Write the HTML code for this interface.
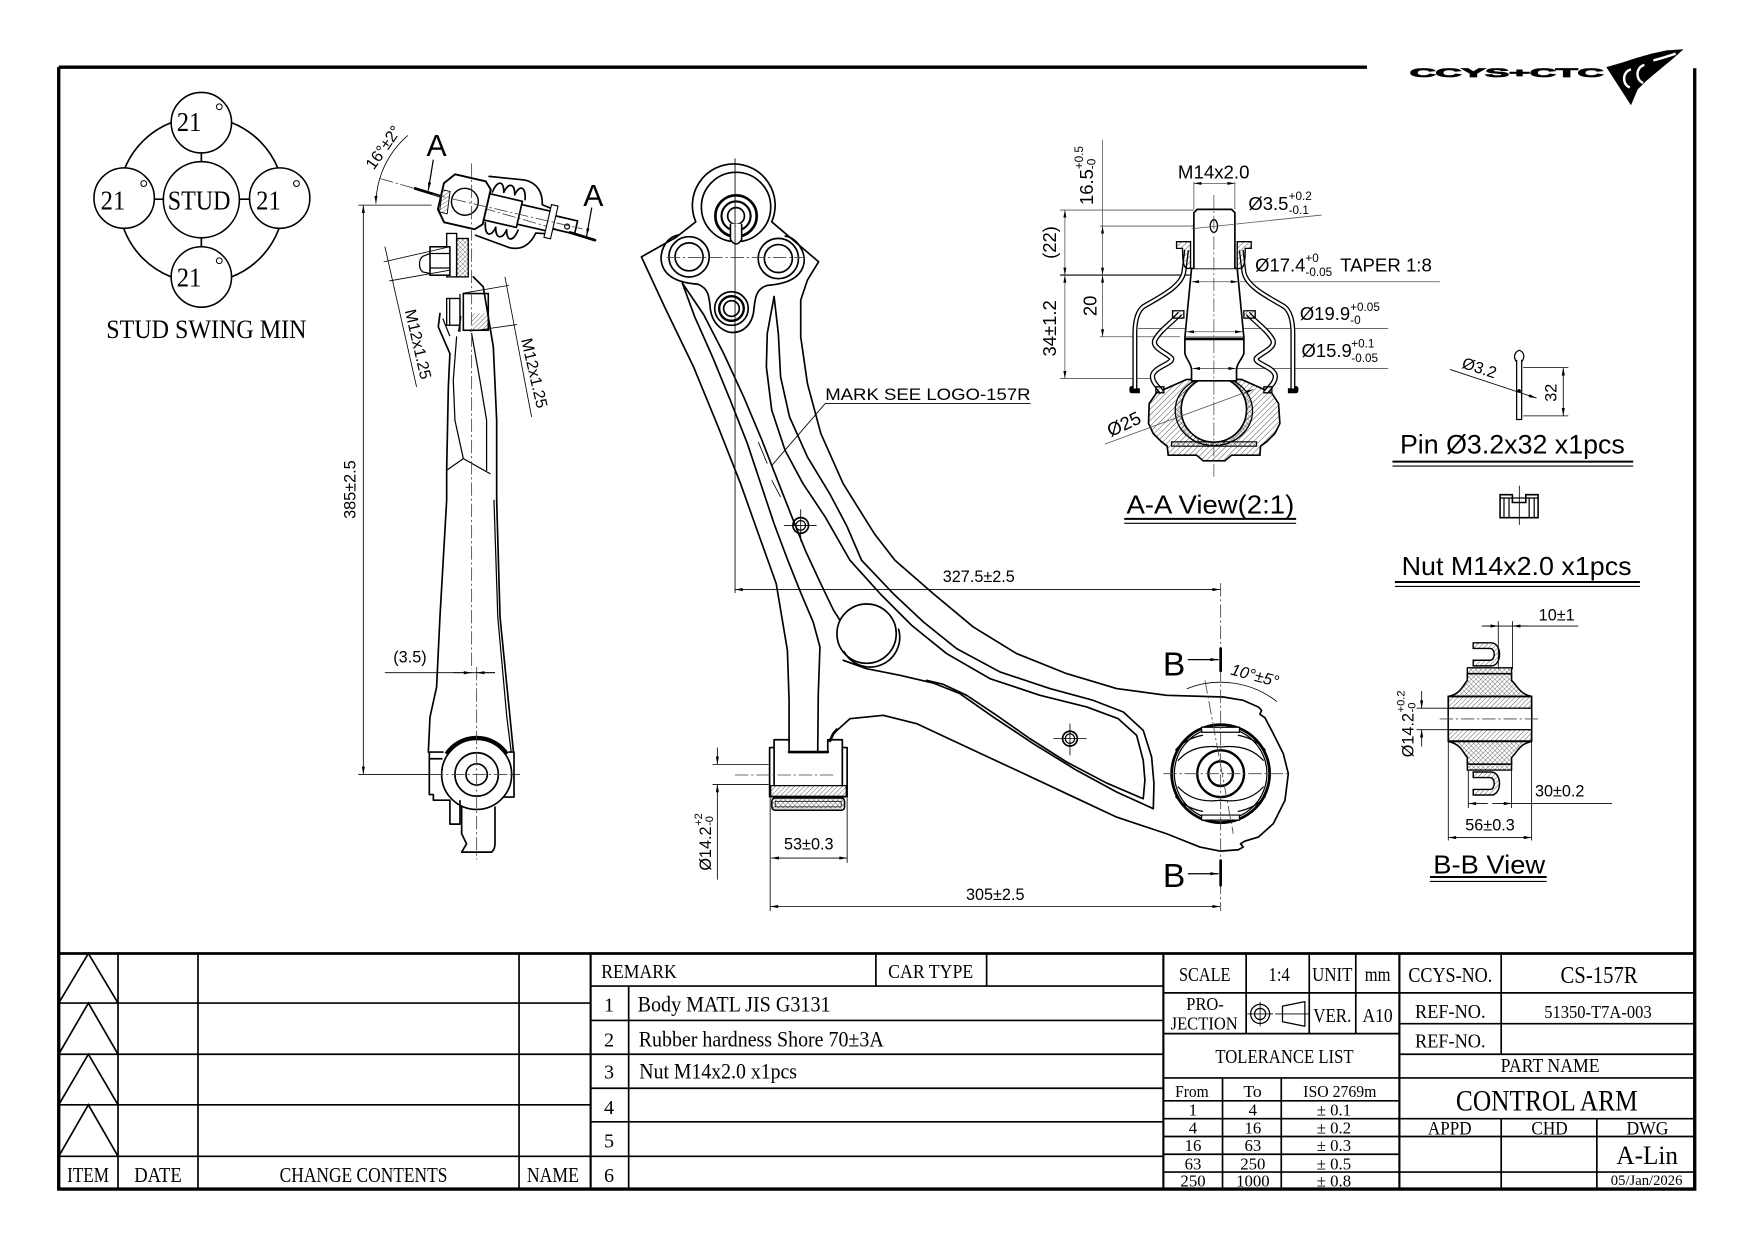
<!DOCTYPE html>
<html><head><meta charset="utf-8">
<style>
html,body{margin:0;padding:0;background:#fff;overflow:hidden}
svg{display:block}
.o{fill:none;stroke:#000;stroke-width:1.5;stroke-linejoin:round;stroke-linecap:round}
.m{fill:none;stroke:#000;stroke-width:1.1;stroke-linejoin:round;stroke-linecap:round}
.t{fill:none;stroke:#000;stroke-width:0.75}
.g{fill:none;stroke:#666;stroke-width:0.7}
.c{fill:none;stroke:#444;stroke-width:0.75;stroke-dasharray:12 2.5 2 2.5}
.k{fill:none;stroke:#000;stroke-width:2.4;stroke-linejoin:round;stroke-linecap:round}
.s{font-family:"Liberation Serif",serif}
.d{font-family:"Liberation Sans",sans-serif;font-size:14.5px}
.e{font-family:"Liberation Sans",sans-serif;font-size:16.5px}
.u{font-family:"Liberation Sans",sans-serif;font-size:10.5px}
.tb{fill:none;stroke:#000;stroke-width:1.5}
.z{fill:none;stroke:#000;stroke-width:4.5;stroke-linejoin:round}
.zt{fill:none;stroke:#555;stroke-width:2.4}
.zk{fill:none;stroke:#000;stroke-width:7;stroke-linejoin:round}
</style></head>
<body>
<svg xmlns="http://www.w3.org/2000/svg" width="1754" height="1240" viewBox="0 0 1568 1108" preserveAspectRatio="none">
<defs>
<pattern id="h" width="3" height="3" patternUnits="userSpaceOnUse" patternTransform="rotate(45)"><path d="M0,0V3" stroke="#000" stroke-width="0.55"/></pattern>
<pattern id="x" width="3" height="3" patternUnits="userSpaceOnUse" patternTransform="rotate(45)"><path d="M0,0V3M0,0H3" stroke="#000" stroke-width="0.45"/></pattern>
<pattern id="h9" width="12" height="12" patternUnits="userSpaceOnUse" patternTransform="rotate(45)"><path d="M0,0V12" stroke="#000" stroke-width="2"/></pattern>
<pattern id="x9" width="10" height="10" patternUnits="userSpaceOnUse" patternTransform="rotate(45)"><path d="M0,0V10M0,0H10" stroke="#000" stroke-width="1.6"/></pattern>
<marker id="a" viewBox="0 0 10 4" refX="10" refY="2" markerWidth="8" markerHeight="2.8" orient="auto-start-reverse" markerUnits="userSpaceOnUse"><path d="M0,0L10,2L0,4z"/></marker>
<marker id="a9" viewBox="0 0 10 4" refX="10" refY="2" markerWidth="27" markerHeight="9" orient="auto-start-reverse" markerUnits="userSpaceOnUse"><path d="M0,0L10,2L0,4z"/></marker>
</defs>

<!-- FRAME -->
<path d="M52.5,60H1222M52.5,60V1062.5H1515V61" fill="none" stroke="#000" stroke-width="3"/>

<!-- LOGO -->
<text x="1260.4" y="68.8" font-family="Liberation Sans, sans-serif" font-size="10.5" font-weight="bold" stroke="#000" stroke-width="0.7" textLength="173" lengthAdjust="spacingAndGlyphs">CCYS+CTC</text>
<path d="M1436,60 L1450,56 L1462,52 L1476,48 L1490,45 L1505,44 L1496,52 L1484,62 L1472,72 L1464,80 L1458,94 Z" fill="#000"/>
<path d="M1458,62 C1450,64 1450,76 1457,78 M1470,58 C1462,60 1462,72 1469,74 M1478,54 C1486,52 1492,50 1498,48" fill="none" stroke="#fff" stroke-width="2.2"/>

<!-- STUD SWING DIAGRAM -->
<circle cx="180" cy="178.5" r="74" class="o"/>
<g fill="#fff" stroke="#000" stroke-width="1.4">
<circle cx="180" cy="109.6" r="27"/><circle cx="111" cy="177" r="27"/><circle cx="250" cy="177" r="27"/><circle cx="180" cy="247.5" r="27"/><circle cx="180" cy="178.5" r="34"/>
</g>
<path d="M180,136.6V144.5M180,212.5V220.5M138,178H146M214,178H223" class="o"/>
<g fill="none" stroke="#000" stroke-width="0.9"><circle cx="196" cy="95.4" r="2.6"/><circle cx="128.5" cy="164" r="2.6"/><circle cx="265" cy="164" r="2.6"/><circle cx="196" cy="233" r="2.6"/></g>
<g class="s" font-size="25">
<text x="158" y="117" textLength="22" lengthAdjust="spacingAndGlyphs">21</text>
<text x="90" y="187" textLength="22" lengthAdjust="spacingAndGlyphs">21</text>
<text x="229" y="187" textLength="22" lengthAdjust="spacingAndGlyphs">21</text>
<text x="158" y="256" textLength="22" lengthAdjust="spacingAndGlyphs">21</text>
<text x="150" y="187" textLength="56" lengthAdjust="spacingAndGlyphs">STUD</text>
</g>
<text x="95" y="302" class="s" font-size="24" textLength="179" lengthAdjust="spacingAndGlyphs">STUD SWING MIN</text>

<!-- ================= SIDE VIEW ================= -->
<path d="M324.8,183.3V692" class="t" marker-start="url(#a)" marker-end="url(#a)"/>
<path d="M320.3,183.3H385.9M320.3,692H464.8" class="t"/>
<text transform="translate(318,437.5) rotate(-90)" text-anchor="middle" class="d">385±2.5</text>
<path d="M336,182 A82,82 0 0,1 364.6,121" class="t" marker-start="url(#a)"/>
<text transform="translate(342.6,131.7) rotate(-55)" text-anchor="middle" dy="5" class="d" font-size="14">16°±2°</text>
<path d="M339.7,159.5 L531.9,214.6" class="c"/>
<path d="M371,168.4L393.3,175.2M509.5,207.7L531.9,214.6" class="k"/>
<text x="390.3" y="139.5" text-anchor="middle" font-family="Liberation Sans, sans-serif" font-size="27">A</text>
<text x="530.4" y="184" text-anchor="middle" font-family="Liberation Sans, sans-serif" font-size="27">A</text>
<path d="M387.3,143.1L382.9,169.9" class="m" marker-end="url(#a)"/>
<path d="M528.9,186L524.4,211" class="m" marker-end="url(#a)"/>
<g transform="translate(415.6,180.3) rotate(13)">
<path d="M16,-27 L48,-31 C60,-31 66,-23 68,-13 L80,-11 M16,27 L48,31 C60,31 66,23 68,13 L80,11" class="o"/>
<path d="M22,-14 C24,-26 30,-26 32,-16 C34,-26 40,-26 42,-16 C44,-26 50,-26 52,-14 M22,14 C24,26 30,26 32,16 C34,26 40,26 42,16 C44,26 50,26 52,14" class="o"/>
<path d="M-14,-22 L14,-22 L20,-16 L20,16 L14,22 L-14,22 L-22,12 L-22,-12 Z" fill="#fff" stroke="#000" stroke-width="1.7"/>
<path d="M-22,-6 L-15,-6 L-13,14 L-20,14 Z" fill="url(#h)" stroke="#000" stroke-width="0.8"/>
<circle r="12" fill="#fff" stroke="#000" stroke-width="1.3"/>
<path d="M20,-12 L50,-12 L50,12 L20,12 M50,-9 L80,-9 L80,9 L50,9 M80,-6 L102,-6 L102,6 L80,6" class="o"/>
<path d="M76,-15 L82,-15 L82,15 L76,15 Z" fill="#fff" stroke="#000" stroke-width="1"/>
<circle cx="94" cy="1" r="2.2" class="m"/>
<path d="M-30,0 H108" class="c"/>
</g>
<rect x="399.3" y="208.6" width="8.9" height="38.8" fill="#fff" stroke="#000" stroke-width="1.2"/>
<rect x="408.2" y="213.1" width="10.4" height="34.3" fill="url(#x)" stroke="#000" stroke-width="1.2"/>
<rect x="384.4" y="220.5" width="17.8" height="25.4" fill="#fff" stroke="#000" stroke-width="1.4"/>
<path d="M384.4,226.5 L378,229 C374,232 374,240 378,243 L384.4,244.4 M384.4,226.5 H402.2 M384.4,239.5H402.2" class="m"/>
<rect x="414.2" y="262.3" width="22.3" height="32.8" fill="#fff" stroke="#000" stroke-width="1.4"/>
<rect x="422" y="280" width="14.5" height="15" fill="url(#h)" stroke="none"/>
<rect x="399.3" y="266.7" width="11.9" height="23.9" fill="#fff" stroke="#000" stroke-width="1.2"/>
<path d="M402,266.7V290.6M411.2,263V296" class="m"/>
<path d="M402.2,220.5L343,234M402.2,241.4L348,251M414,262L455,255M420,296L462,290" class="t"/>
<path d="M344.1,220.5L372.4,345.7M451.4,247.4L475.2,372.5" class="t"/>
<text transform="translate(373.9,307.6) rotate(77)" text-anchor="middle" dy="5" class="d" font-size="15.5">M12x1.25</text>
<text transform="translate(477.8,333.4) rotate(77)" text-anchor="middle" dy="5" class="d" font-size="15.5">M12x1.25</text>
<path d="M393.3,280.1 L391.8,292 L402.2,315.9 L400.8,345.7 L399.3,420.2 L399.3,447 L393.3,551.3 L390.3,613.9 L384.4,640.7 L382.9,672" class="o"/>
<path d="M423.1,247.4 L432,256.3 L435,274.2 L441,309.9 L444,375.5 L444,447 L447,551.3 L455.9,640.7 L459,672" class="o"/>
<path d="M441.6,447 L445,551.3 L453,640 L457,672" class="m"/>
<path d="M408.2,301 L405.2,339.7 L406.7,375.5 L414.2,409.8 M421.6,298 L429,339.7 L435,375.5 L435,420.2 M399.3,420.2 L414.2,409.8 L438,423.2 M402,300 L396,285 M410,296 L412,283" class="m"/>
<path d="M421.6,146V598" class="c"/>
<path d="M383.8,672 L383.8,710 L387.4,710 L387.4,715 L402.2,715 M459.5,672 L459.5,712.2 L442.5,712.2 M383.8,672 H396 M455,672 H459.5 M383.8,678 H395" class="o"/>
<circle cx="426.1" cy="692" r="31.3" fill="#fff" stroke="#000" stroke-width="1.5"/>
<circle cx="426.1" cy="692" r="19.4" class="o"/>
<circle cx="426.1" cy="692" r="9.5" class="o"/>
<path d="M398.7,673.5 A33,33 0 0,1 453.5,673.5" fill="none" stroke="#000" stroke-width="2.9"/>
<path d="M402.2,715.5 V736.4 H411.2 V715.5" class="o"/>
<path d="M412.7,721.2 L412.7,745 L417.1,754 L412.7,761.4 L439.5,761.4 C442,759 442.5,756 442.5,754 L442.5,721.2" class="o"/>
<path d="M426.1,596V768M384.4,692H464.8" class="c"/>
<path d="M344.1,601.1H442.5" class="t"/>
<path d="M405,601.1H421.6" class="t" marker-end="url(#a)"/>
<path d="M442.5,601.1H426.1" class="t" marker-end="url(#a)"/>
<text x="366.5" y="592" text-anchor="middle" class="d">(3.5)</text>

<!-- ================= MAIN ARM ================= -->
<path d="M705.4,662 L705.4,625.7 L703.9,581.1 L693.9,521.5 L677.9,476.8 L662,432.1 L642,381.4 L620,327.8 L594.1,274.2 L573.4,229.5 L604.1,212.2 L622,198.2 A37,37 0 1,1 689.9,198.2 L731.8,233.9 L721.8,250.3 L715.8,268.2 L715.8,301 L721.8,342.7 L733.8,387.4 L753.7,432.1 L781.6,476.8 L800,500.6 L834.3,530.4 L870,560.2 L908.8,584 L953.5,601.9 L998.2,615.3 L1042.9,621.3 L1093.6,622.8 L1111.4,625.8 L1124.9,631.7 L1127.8,634.7 L1126.3,638.3 L1130.8,641.3 L1138.3,655.6 L1147.2,673.4 L1151.7,691.3 L1148.7,715.2 L1138.3,736 L1124.9,748 L1113,751.5 L1109,753.9 L1111.4,756.9 L1107,759.3 L1090.6,760.5 L1072.7,756.9 L1042.9,745 L998.2,730.1 L953.5,709.2 L908.8,688.3 L864.1,667.5 L819.4,646.6 L789.6,639.2 L759.8,642.2 L744.9,655.6 L742,662" class="o"/>
<path d="M742,662 L744.9,655.6 L748,652" class="k"/>
<circle cx="658" cy="185" r="31" class="o"/>
<path d="M606,210 C593,213 589,228 592,237 C596,249 610,253 624,254 C634,258 634,266 635,276 C637,292 650,298 656,297 C664,297 673,290 674,276 C675,266 676,258 686,255 C700,254 714,250 718,238 C722,226 712,212 702,211" class="o"/>
<circle cx="658" cy="193" r="18.5" fill="none" stroke="#000" stroke-width="2.4"/>
<circle cx="658" cy="193" r="13" fill="none" stroke="#000" stroke-width="1.9"/>
<circle cx="658" cy="193" r="7.5" class="o"/>
<path d="M653,200 V214 Q658,222 663,214 V200" fill="#fff" stroke="#000" stroke-width="1.4"/>
<circle cx="616" cy="229.5" r="18" class="o"/><circle cx="616" cy="229.5" r="12.5" class="o"/>
<circle cx="695.8" cy="231" r="18" class="o"/><circle cx="695.8" cy="231" r="12.5" class="o"/>
<circle cx="653.9" cy="275.7" r="15" class="o"/><circle cx="653.9" cy="275.7" r="11" fill="none" stroke="#000" stroke-width="2.1"/><circle cx="653.9" cy="275.7" r="7" class="o"/>
<path d="M596,230H720" class="c"/>
<path d="M657.1,141.5V530" class="t"/>
<path d="M610,253 L621,283 L637,319 L653,358 L668,396 L680,432 L692,468 L704,500 L716,530 L727,556 L733,578 L731.5,620 L731,672" class="o"/>
<path d="M610,253 L629,281 L647,316 L665,355 L681,393 L695,429 L708,462 L720,492 L733,520 L745,545 L752,556" class="o"/>
<path d="M692,265 L685.9,298 L685.1,327.8 L689.9,366.5 L701.8,402.3 L717.8,432.1 L737.7,461.9 L759.8,500.6 L788.1,531.9 L814.9,558.7 L846.2,584 L885,606.4 L929.7,621.3 L971.4,631.7 L999.7,642.2 L1016.1,657.1 L1022,679.4 L1023.5,697.3 L1022,713.7 L989.3,699.7 L953.5,680.9 L920.7,660 L890.9,639.2 L864.1,621.3 L843.2,611.5 L828.3,607.9" class="o"/>
<path d="M692,265 L695.8,298 L697.8,336.7 L705.8,372.5 L721.8,408.3 L741.7,441.1 L757,470 L770.2,500.6 L798.5,530.4 L825.4,555.7 L855.2,579.6 L893.9,600.4 L938.6,615.3 L977.3,625.8 L1004.2,636.2 L1022,652.6 L1029.5,676.4 L1031.6,700.3 L1031,722.6 L998.2,707.7 L962.4,688.3 L923.7,664.5 L888,640.7 L858.1,619.8 L834.3,610.3 L804.5,603.4 L774.7,597.5 L753.8,590" class="o"/>
<circle cx="774.7" cy="566.2" r="26.5" fill="#fff" stroke="#000" stroke-width="1.5"/>
<path d="M754.7,582.5 A26.5,26.5 0 0,0 803.3,562.3" class="o"/>
<circle cx="715.8" cy="469.5" r="7" class="o"/><circle cx="715.8" cy="469.5" r="4.3" class="m"/>
<path d="M701,469.5H730M715.8,455V484" class="t"/>
<circle cx="956.5" cy="660" r="6.6" class="o"/><circle cx="956.5" cy="660" r="4.2" class="m"/>
<path d="M941.6,660H971.4M956.5,646.6V674.9" class="t"/>
<text x="737.7" y="357.6" class="d" textLength="183.6" lengthAdjust="spacingAndGlyphs">MARK SEE LOGO-157R</text>
<path d="M921.3,360.6H737.7L689.9,416" class="t"/>
<path d="M677.9,394.9L685.9,414.2M689.9,429.1L697.8,444" class="t"/>
<circle cx="1091.2" cy="691.3" r="43.8" fill="none" stroke="#000" stroke-width="2.5"/>
<circle cx="1091.2" cy="691.3" r="41.4" class="m"/>
<path d="M1074.2,649.8 H1108 V654.3 H1074.2 Z M1074.2,728.3 H1108 V732.8 H1074.2 Z" fill="#fff" stroke="#000" stroke-width="1.1"/>
<path d="M1053.3,679.4 Q1066.5,664.5 1091.2,667.5 Q1115.9,664.5 1129.3,679.4 M1053.3,703.2 Q1066.5,718.1 1091.2,715.1 Q1115.9,718.1 1129.3,703.2" class="m"/>
<path d="M1051,670 Q1060,660 1075,657 M1131,670 Q1122,660 1107,657 M1051,712 Q1060,722 1075,725 M1131,712 Q1122,722 1107,725" class="m"/>
<circle cx="1091.2" cy="691.3" r="20.9" fill="none" stroke="#000" stroke-width="2.1"/>
<circle cx="1091.2" cy="691.3" r="11" fill="none" stroke="#000" stroke-width="2.1"/>
<path d="M1039.9,691.3H1153.2M1091.2,521V814M1077.2,607.9L1102.5,745" class="c"/>
<path d="M1060.9,615.4 A81.7,81.7 0 0,1 1141.5,626.9" class="t"/>
<text transform="translate(1121.9,603.4) rotate(15)" text-anchor="middle" dy="5" class="d" font-style="italic">10°±5°</text>
<text x="1049.6" y="603.4" text-anchor="middle" font-family="Liberation Sans, sans-serif" font-size="30">B</text>
<text x="1049.6" y="792.6" text-anchor="middle" font-family="Liberation Sans, sans-serif" font-size="30">B</text>
<path d="M1062.3,589.4H1089" class="m" marker-end="url(#a)"/>
<path d="M1062.3,780.7H1089" class="m" marker-end="url(#a)"/>
<path d="M1091.2,579.6V599.5M1091.2,769V791" class="k"/>
<path d="M688,668 L692,668 L692,661 L705.4,661 M740,661 L753,661 L753,668 L757.3,668 L757.3,712 L688,712 L688,668 M692,668 V702 M753,668 V702 M705.4,661 V672 M740,661 V672" class="o"/>
<path d="M705.4,672 H740" class="k"/>
<rect x="689" y="702" width="67.5" height="9.5" fill="url(#h)" stroke="#000" stroke-width="1.1"/>
<rect x="690" y="713" width="65" height="11" rx="3" fill="url(#x)" stroke="#000" stroke-width="1.4"/>
<rect x="693" y="716" width="59" height="5" fill="none" stroke="#000" stroke-width="0.7"/>
<path d="M657,692.5H745" class="c"/>
<path d="M657.1,526.8H1090.8" class="t" marker-start="url(#a)" marker-end="url(#a)"/>
<text x="875" y="520" text-anchor="middle" class="d">327.5±2.5</text>
<path d="M688.5,713V814M757.3,713V771" class="t"/>
<path d="M688.7,810H1090.8" class="t" marker-start="url(#a)" marker-end="url(#a)"/>
<text x="889.7" y="804" text-anchor="middle" class="d">305±2.5</text>
<path d="M689.4,766.7H757.3" class="t" marker-start="url(#a)" marker-end="url(#a)"/>
<text x="723" y="759" text-anchor="middle" class="d">53±0.3</text>
<path d="M637,683H687M637,700.9H687" class="t"/>
<path d="M641.3,668V683" class="t" marker-end="url(#a)"/>
<path d="M641.3,786V700.9" class="t" marker-end="url(#a)"/>
<g transform="translate(635.5,778) rotate(-90)" class="d"><text x="0" y="0">Ø14.2</text><text x="40" y="-8" font-size="10">+2</text><text x="40" y="2" font-size="10">-0</text></g>

<!-- ================= A-A VIEW ================= -->
<g transform="translate(929.6,125.1) scale(0.298)">
<path d="M60,210H462M180,258H470M180,590H420M60,715H340M188,0V258M462,125V208M585,125V208M600,425H1200M295,565H1045M590,685H1045" class="zt"/>
<path d="M60,405H450" fill="none" stroke="#000" stroke-width="3.5"/>
<path d="M75,210V405" class="zt" marker-start="url(#a9)" marker-end="url(#a9)"/>
<path d="M75,405V715" class="zt" marker-start="url(#a9)" marker-end="url(#a9)"/>
<path d="M188,258V405" class="zt" marker-start="url(#a9)" marker-end="url(#a9)"/>
<path d="M188,405V590" class="zt" marker-start="url(#a9)" marker-end="url(#a9)"/>
<path d="M462,130H585" class="zt" marker-start="url(#a9)" marker-end="url(#a9)"/>
<g fill="none" stroke-linejoin="round">
<path d="M440,330 L432,395 C425,440 360,470 310,500 C292,515 285,545 285,580 L285,745 L276,745 L276,752 L300,752 M604,330 L612,395 C619,440 684,470 734,500 C752,515 759,545 759,580 L759,745 L768,745 L768,752 L744,752" stroke="#000" stroke-width="15"/>
<path d="M440,330 L432,395 C425,440 360,470 310,500 C292,515 285,545 285,580 L285,745 M604,330 L612,395 C619,440 684,470 734,500 C752,515 759,545 759,580 L759,745" stroke="#fff" stroke-width="7"/>
</g>
<path d="M350,758 L440,718 L605,718 L695,758 L716,790 L720,850 L705,880 L680,905 L662,918 L660,945 L575,945 L555,962 L490,962 L470,945 L385,945 L382,918 L365,905 L340,880 L326,850 L328,790 Z" fill="url(#h9)" stroke="#000" stroke-width="5"/>
<ellipse cx="522" cy="812" rx="116" ry="104" fill="url(#x9)" stroke="#000" stroke-width="4"/>
<path d="M395,905 H650 V918 H395 Z" fill="url(#x9)" stroke="#000" stroke-width="3.5"/>
<circle cx="522" cy="808" r="98" fill="#fff" stroke="#000" stroke-width="5"/>
<g fill="none" stroke-linejoin="round">
<path d="M420,520 C405,540 360,570 345,600 C335,625 385,640 395,655 C400,670 345,680 338,705 C335,725 355,740 365,755 M624,520 C639,540 684,570 699,600 C709,625 659,640 649,655 C644,670 699,680 706,705 C709,725 689,740 679,755" stroke="#000" stroke-width="16"/>
<path d="M420,520 C405,540 360,570 345,600 C335,625 385,640 395,655 C400,670 345,680 338,705 C335,725 355,740 365,755 M624,520 C639,540 684,570 699,600 C709,625 659,640 649,655 C644,670 699,680 706,705 C709,725 689,740 679,755" stroke="#fff" stroke-width="8"/>
</g>
<path d="M398,512 H432 V534 H398 Z M612,512 H646 V534 H612 Z M348,740 H372 V758 H348 Z M672,740 H696 V758 H672 Z" fill="url(#h9)" stroke="#000" stroke-width="4"/>
<path d="M410,305 L452,305 L452,385 L440,385 C430,380 428,360 428,325 L410,325 Z M634,305 L592,305 L592,385 L604,385 C614,380 616,360 616,325 L634,325 Z" fill="url(#h9)" stroke="#000" stroke-width="4"/>
<path d="M455,385 L592,385 L612,592 L435,592 Z" fill="#fff" stroke="#000" stroke-width="5"/>
<path d="M435,592 L435,640 C440,660 455,670 455,690 L455,722 L590,722 L590,690 C590,670 605,660 612,640 L612,592" fill="#fff" stroke="#000" stroke-width="5"/>
<path d="M435,597 H612" fill="none" stroke="#000" stroke-width="7"/>
<path d="M462,385 V218 L472,208 H575 L585,218 V385" fill="#fff" stroke="#000" stroke-width="5"/>
<ellipse cx="522" cy="258" rx="11" ry="19" fill="none" stroke="#000" stroke-width="4"/>
<path d="M455,425H595" class="zt" marker-start="url(#a9)" marker-end="url(#a9)"/>
<path d="M440,575H608" class="zt" marker-start="url(#a9)" marker-end="url(#a9)"/>
<path d="M458,685H588" class="zt" marker-start="url(#a9)" marker-end="url(#a9)"/>
<path d="M455,266 L845,225" class="zt"/>
<path d="M195,912 L640,748" class="zt" marker-end="url(#a9)"/>
<path d="M522,165V1010" fill="none" stroke="#444" stroke-width="2.2" stroke-dasharray="40 8 6 8"/>
</g>
<text x="1053" y="159.4" class="e" textLength="64" lengthAdjust="spacingAndGlyphs">M14x2.0</text>
<text x="1116" y="187.7" class="e">Ø3.5</text><text x="1152" y="178.7" class="u">+0.2</text><text x="1152" y="191" class="u">-0.1</text>
<text x="1122" y="242.8" class="e">Ø17.4</text><text x="1167" y="233.9" class="u">+0</text><text x="1167" y="246.7" class="u">-0.05</text>
<text x="1198" y="242.8" class="e" textLength="82" lengthAdjust="spacingAndGlyphs">TAPER 1:8</text>
<text x="1162" y="286" class="e">Ø19.9</text><text x="1207" y="277.7" class="u">+0.05</text><text x="1207" y="289.6" class="u">-0</text>
<text x="1163.5" y="318.8" class="e">Ø15.9</text><text x="1208" y="310.5" class="u">+0.1</text><text x="1208" y="323.3" class="u">-0.05</text>
<text transform="translate(1004.6,378.6) rotate(-25)" text-anchor="middle" dy="6" class="e">Ø25</text>
<text transform="translate(944,216.7) rotate(-90)" text-anchor="middle" class="e">(22)</text>
<text transform="translate(944,293.4) rotate(-90)" text-anchor="middle" class="e">34±1.2</text>
<text transform="translate(980,273.3) rotate(-90)" text-anchor="middle" class="e">20</text>
<g transform="translate(977.3,183.2) rotate(-90)"><text x="0" y="0" class="e">16.5</text><text x="32" y="-9" class="u">+0.5</text><text x="32" y="2" class="u">-0</text></g>
<text x="1007" y="459" font-family="Liberation Sans, sans-serif" font-size="23" textLength="150" lengthAdjust="spacingAndGlyphs">A-A View(2:1)</text>
<path d="M1005,463.6H1158.7" fill="none" stroke="#000" stroke-width="1.8"/>
<path d="M1005,467.6H1158.7" fill="none" stroke="#000" stroke-width="1"/>

<!-- ================= PIN / NUT / B-B ================= -->
<path d="M1355.8,322 V374.8 H1360.3 V322 M1355.5,323 C1352,318 1355,314 1358.2,313 C1361.5,314 1364,318 1360.5,323" class="m"/>
<circle cx="1358" cy="349.3" r="1.6"/>
<path d="M1296.2,330.1L1373.6,355.7" class="t" marker-end="url(#a)"/>
<text transform="translate(1322.6,328.6) rotate(18)" text-anchor="middle" dy="5" class="d">Ø3.2</text>
<path d="M1361.7,328.5H1402M1361.7,371.6H1402" class="t"/>
<path d="M1397.5,328.5V371.6" class="t" marker-start="url(#a)" marker-end="url(#a)"/>
<text transform="translate(1391.5,350.9) rotate(-90)" text-anchor="middle" class="d">32</text>
<text x="1251.5" y="405.2" font-family="Liberation Sans, sans-serif" font-size="24" textLength="201" lengthAdjust="spacingAndGlyphs">Pin Ø3.2x32 x1pcs</text>
<path d="M1244.8,412.5H1460" fill="none" stroke="#000" stroke-width="1.8"/>
<path d="M1244.8,416.5H1460" fill="none" stroke="#000" stroke-width="1"/>
<path d="M1341,442 H1352 V449 H1364 V442 H1375 V462.6 H1341 Z" fill="#fff" stroke="#000" stroke-width="1.4"/>
<path d="M1344.5,445V462.6M1349,445V462.6M1367,445V462.6M1371.5,445V462.6M1341,445H1375" class="m"/>
<path d="M1358.2,434V469" class="t"/>
<text x="1253" y="513.7" font-family="Liberation Sans, sans-serif" font-size="23" textLength="205.6" lengthAdjust="spacingAndGlyphs">Nut M14x2.0 x1pcs</text>
<path d="M1247,520H1466" fill="none" stroke="#000" stroke-width="1.8"/>
<path d="M1247,524H1466" fill="none" stroke="#000" stroke-width="1"/>
<path d="M1339.4,555V598M1352.2,555V598" class="t"/>
<path d="M1324.5,559.4H1410.9" class="t"/>
<path d="M1326,559.4H1339.4" class="t" marker-end="url(#a)"/>
<path d="M1366,559.4H1352.2" class="t" marker-end="url(#a)"/>
<text x="1391.6" y="554.3" text-anchor="middle" class="d">10±1</text>
<path d="M1317,574.4 H1333 C1343,574.4 1343,595 1333,595 H1317 V590 H1332 C1337,590 1337,579.4 1332,579.4 H1317 Z" fill="url(#h)" stroke="#000" stroke-width="1.3"/>
<path d="M1317,710.4 H1333 C1343,710.4 1343,689.8 1333,689.8 H1317 V694.8 H1332 C1337,694.8 1337,705.4 1332,705.4 H1317 Z" fill="url(#h)" stroke="#000" stroke-width="1.3"/>
<path d="M1311.7,602 L1351.3,602 L1351.3,608 C1356,612 1358,620 1369.2,622.3 L1294.7,622.3 C1306,620 1308,612 1311.7,608 Z" fill="url(#x)" stroke="#000" stroke-width="1.4"/>
<path d="M1311.7,682.8 L1351.3,682.8 L1351.3,676.8 C1356,672.8 1358,664.8 1369.2,662.5 L1294.7,662.5 C1306,664.8 1308,672.8 1311.7,676.8 Z" fill="url(#x)" stroke="#000" stroke-width="1.4"/>
<rect x="1311.7" y="596.7" width="39.6" height="5.3" fill="url(#x)" stroke="#000" stroke-width="1.2"/>
<rect x="1311.7" y="682.8" width="39.6" height="5.3" fill="url(#x)" stroke="#000" stroke-width="1.2"/>
<rect x="1294.7" y="622.3" width="74.5" height="39.9" fill="url(#h)" stroke="#000" stroke-width="1.5"/>
<rect x="1294.7" y="632.8" width="74.5" height="19.2" fill="#fff" stroke="#000" stroke-width="1.2"/>
<path d="M1287,642.4H1377" class="c"/>
<path d="M1266.4,632.8H1294.7M1266.4,652H1294.7" class="t"/>
<path d="M1270.9,617.5V632.8" class="t" marker-end="url(#a)"/>
<path d="M1270.9,667V652" class="t" marker-end="url(#a)"/>
<g transform="translate(1263.4,676.6) rotate(-90)" class="d"><text x="0" y="0">Ø14.2</text><text x="40" y="-8" font-size="10">+0.2</text><text x="40" y="2" font-size="10">-0</text></g>
<path d="M1312.6,688V722M1351.3,688V722" class="t"/>
<path d="M1330,718H1312.6" class="t" marker-end="url(#a)"/>
<path d="M1334,718H1351.3" class="t" marker-end="url(#a)"/>
<path d="M1351.3,718H1441" class="t"/>
<text x="1372.2" y="711.7" class="d">30±0.2</text>
<path d="M1294.7,662V751M1369.2,662V751" class="t"/>
<path d="M1294.7,748.4H1369.2" class="t" marker-start="url(#a)" marker-end="url(#a)"/>
<text x="1332" y="742" text-anchor="middle" class="d">56±0.3</text>
<text x="1281.3" y="780.4" font-family="Liberation Sans, sans-serif" font-size="23" textLength="100" lengthAdjust="spacingAndGlyphs">B-B View</text>
<path d="M1278.3,783.6H1382.6" fill="none" stroke="#000" stroke-width="1.8"/>
<path d="M1278.3,787.6H1382.6" fill="none" stroke="#000" stroke-width="1"/>

<!-- ================= TITLE BLOCK ================= -->
<path d="M52.5,852H1515" fill="none" stroke="#000" stroke-width="2.4"/>
<path d="M528,852V1062.5M1040,852V1062.5M1251,852V1062.5" fill="none" stroke="#000" stroke-width="1.9"/>
<path d="M105.5,852V1062.5M177,852V1062.5M464,852V1062.5M52.5,896.3H528M52.5,942H528M52.5,987.2H528M52.5,1033.2H528" class="tb"/>
<path d="M52.5,896.3L79,852L105.5,896.3M52.5,942L79,896.3L105.5,942M52.5,987.2L79,942L105.5,987.2M52.5,1033.2L79,987.2L105.5,1033.2" class="tb"/>
<path d="M528,881.1H1040M528,911.8H1040M528,942H1040M528,972.4H1040M528,1002.4H1040M528,1033.2H1040M562,881.1V1062.5M783,852V881.1M882,852V881.1" class="tb"/>
<path d="M1114,852V923.6M1170.4,852V923.6M1212,852V923.6M1040,887.2H1251M1040,923.6H1251M1040,963.2H1251M1040,983.6H1251M1040,999.6H1251M1040,1015.5H1251M1040,1031.4H1251M1040,1047.3H1251M1092.9,963.2V1062.5M1145.4,963.2V1062.5" class="tb"/>
<path d="M1251,887.2H1515M1251,914.7H1515M1251,942H1515M1251,963.2H1515M1251,999.6H1515M1251,1015.5H1515M1251,1047.3H1515M1342,852V942M1342,999.6V1062.5M1427.5,999.6V1062.5" class="tb"/>
<circle cx="1126.5" cy="906" r="8.5" class="m"/><circle cx="1126.5" cy="906" r="5" class="m"/>
<path d="M1115,906H1138M1126.5,895V917" class="t"/>
<path d="M1146.5,899 L1166.5,895 L1166.5,917 L1146.5,913 Z" class="m"/>
<path d="M1140,906H1170" class="t"/>
<g class="s" font-size="19">
<text x="60" y="1056" textLength="37.5" lengthAdjust="spacingAndGlyphs">ITEM</text>
<text x="120" y="1056" textLength="42.5" lengthAdjust="spacingAndGlyphs">DATE</text>
<text x="250" y="1056" textLength="150" lengthAdjust="spacingAndGlyphs">CHANGE CONTENTS</text>
<text x="471" y="1056" textLength="46.5" lengthAdjust="spacingAndGlyphs">NAME</text>
</g>
<g class="s" font-size="18">
<text x="537.5" y="874" textLength="67.5" lengthAdjust="spacingAndGlyphs">REMARK</text>
<text x="794" y="874" textLength="76" lengthAdjust="spacingAndGlyphs">CAR TYPE</text>
<text x="540" y="904">1</text><text x="540" y="935.3">2</text><text x="540" y="963.6">3</text><text x="540" y="995.4">4</text><text x="540" y="1025.4">5</text><text x="540" y="1056.2">6</text>
</g>
<g class="s" font-size="20">
<text x="570" y="904" textLength="172.5" lengthAdjust="spacingAndGlyphs">Body MATL JIS G3131</text>
<text x="571" y="935.3" textLength="219" lengthAdjust="spacingAndGlyphs">Rubber hardness Shore 70±3A</text>
<text x="571.5" y="963.6" textLength="141" lengthAdjust="spacingAndGlyphs">Nut M14x2.0 x1pcs</text>
</g>
<g class="s" font-size="18">
<text x="1054" y="876.6" textLength="46" lengthAdjust="spacingAndGlyphs">SCALE</text>
<text x="1134" y="876.6" textLength="19" lengthAdjust="spacingAndGlyphs">1:4</text>
<text x="1173" y="876.6" textLength="36" lengthAdjust="spacingAndGlyphs">UNIT</text>
<text x="1220" y="876.6" textLength="23" lengthAdjust="spacingAndGlyphs">mm</text>
<text x="1174" y="913" textLength="34" lengthAdjust="spacingAndGlyphs">VER.</text>
<text x="1218" y="913" textLength="27" lengthAdjust="spacingAndGlyphs">A10</text>
<text x="1086.5" y="950" textLength="123.5" lengthAdjust="spacingAndGlyphs">TOLERANCE LIST</text>
<text x="1265" y="909.5" textLength="63" lengthAdjust="spacingAndGlyphs">REF-NO.</text>
<text x="1265" y="936" textLength="63" lengthAdjust="spacingAndGlyphs">REF-NO.</text>
<text x="1341.5" y="958" textLength="88.5" lengthAdjust="spacingAndGlyphs">PART NAME</text>
</g>
<g class="s" font-size="16">
<text x="1060.5" y="902.4" textLength="33.5" lengthAdjust="spacingAndGlyphs">PRO-</text>
<text x="1046.5" y="920" textLength="60" lengthAdjust="spacingAndGlyphs">JECTION</text>
<text x="1380.5" y="909.5" textLength="96" lengthAdjust="spacingAndGlyphs">51350-T7A-003</text>
</g>
<text x="1259" y="877.6" class="s" font-size="19" textLength="75" lengthAdjust="spacingAndGlyphs">CCYS-NO.</text>
<text x="1395" y="878.4" class="s" font-size="22" textLength="69" lengthAdjust="spacingAndGlyphs">CS-157R</text>
<text x="1301.5" y="992.5" class="s" font-size="26" textLength="162.5" lengthAdjust="spacingAndGlyphs">CONTROL ARM</text>
<g class="s" font-size="15">
<text x="1050.5" y="980.2" textLength="30" lengthAdjust="spacingAndGlyphs">From</text>
<text x="1111.5" y="980.2" textLength="16.5" lengthAdjust="spacingAndGlyphs">To</text>
<text x="1165" y="980.2" textLength="65.5" lengthAdjust="spacingAndGlyphs">ISO 2769m</text>
</g>
<g class="s" font-size="15" text-anchor="middle">
<text x="1066.5" y="996.8">1</text><text x="1120" y="996.8">4</text><text x="1192.5" y="996.8">± 0.1</text>
<text x="1066.5" y="1012.7">4</text><text x="1120" y="1012.7">16</text><text x="1192.5" y="1012.7">± 0.2</text>
<text x="1066.5" y="1028.6">16</text><text x="1120" y="1028.6">63</text><text x="1192.5" y="1028.6">± 0.3</text>
<text x="1066.5" y="1044.9">63</text><text x="1120" y="1044.9">250</text><text x="1192.5" y="1044.9">± 0.5</text>
<text x="1066.5" y="1060.4">250</text><text x="1120" y="1060.4">1000</text><text x="1192.5" y="1060.4">± 0.8</text>
</g>
<g class="s" font-size="17">
<text x="1276.5" y="1013.8" textLength="39" lengthAdjust="spacingAndGlyphs">APPD</text>
<text x="1369" y="1013.8" textLength="32.5" lengthAdjust="spacingAndGlyphs">CHD</text>
<text x="1454" y="1013.8" textLength="37.5" lengthAdjust="spacingAndGlyphs">DWG</text>
</g>
<text x="1445" y="1040.3" class="s" font-size="24" textLength="55" lengthAdjust="spacingAndGlyphs">A-Lin</text>
<text x="1440" y="1059" class="s" font-size="13" textLength="64" lengthAdjust="spacingAndGlyphs">05/Jan/2026</text>
</svg>
</body></html>
